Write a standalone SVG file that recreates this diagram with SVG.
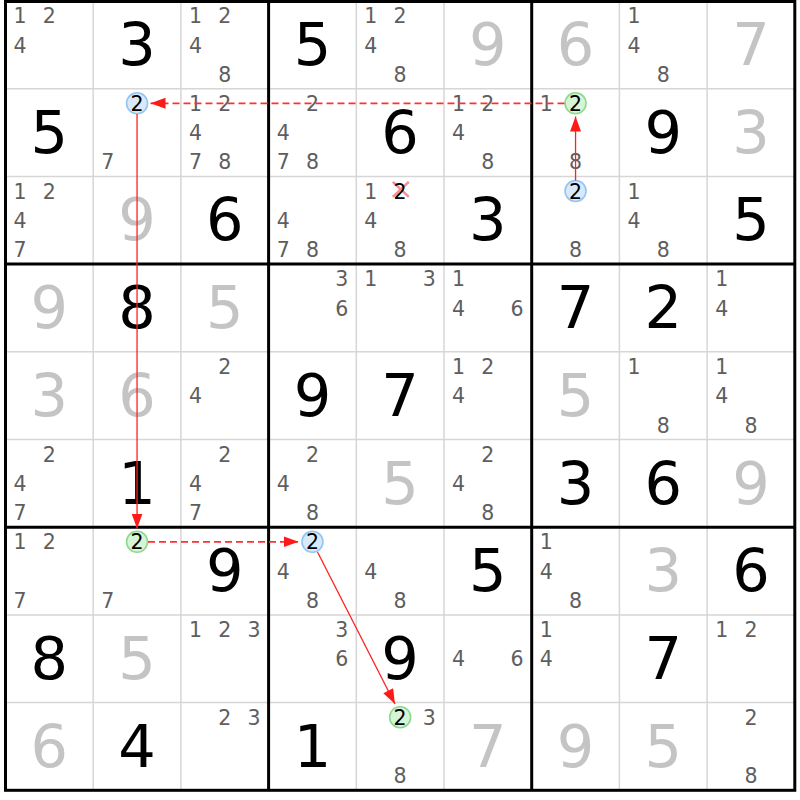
<svg xmlns="http://www.w3.org/2000/svg" width="800" height="800" viewBox="0 0 800 800">
<style>
text{font-family:"DejaVu Sans","Liberation Sans",sans-serif;text-anchor:middle}
.g{font-size:59px;fill:#000}
.s{font-size:59px;fill:#c4c4c4}
.c{font-size:20.5px;fill:#5e5e5e}
.k{font-size:20.5px;fill:#000}
.thin{stroke:#d6d6d6;stroke-width:1.5}
.thick{stroke:#000;stroke-width:3;fill:none}
.blue{fill:#d8e9fb;stroke:#94c4f2;stroke-width:1.6}
.green{fill:#d6f4d6;stroke:#8ed98e;stroke-width:1.6}
.solid{stroke:#ff2020;stroke-width:1.3;fill:none}
.dash{stroke:#ff3030;stroke-width:1.7;stroke-dasharray:7 4;fill:none}
</style>
<defs>
<marker id="ah" markerUnits="userSpaceOnUse" markerWidth="16" markerHeight="12" refX="15" refY="5.5" orient="auto"><path d="M0,0 L15,5.5 L0,11 z" fill="#ff1a1a"/></marker>
</defs>
<rect width="800" height="800" fill="#fff"/>
<g id="grid">
<g class="thin">
<line x1="93.2" y1="1" x2="93.2" y2="790.3"/><line x1="180.9" y1="1" x2="180.9" y2="790.3"/>
<line x1="356.3" y1="1" x2="356.3" y2="790.3"/><line x1="444" y1="1" x2="444" y2="790.3"/>
<line x1="619.4" y1="1" x2="619.4" y2="790.3"/><line x1="707.1" y1="1" x2="707.1" y2="790.3"/>
<line x1="5.5" y1="88.7" x2="794.8" y2="88.7"/><line x1="5.5" y1="176.4" x2="794.8" y2="176.4"/>
<line x1="5.5" y1="351.8" x2="794.8" y2="351.8"/><line x1="5.5" y1="439.5" x2="794.8" y2="439.5"/>
<line x1="5.5" y1="614.9" x2="794.8" y2="614.9"/><line x1="5.5" y1="702.6" x2="794.8" y2="702.6"/>
</g>
<g class="thick">
<rect x="5.5" y="1.5" width="789.3" height="788.8"/>
<line x1="268.6" y1="1" x2="268.6" y2="790.3"/><line x1="531.7" y1="1" x2="531.7" y2="790.3"/>
<line x1="5.5" y1="264.1" x2="794.8" y2="264.1"/><line x1="5.5" y1="527.2" x2="794.8" y2="527.2"/>
</g>
</g>
<!-- row 1 -->
<g id="r1c1" transform="translate(5.5,1)"><text class="c" x="14.6" y="22.3">1</text><text class="c" x="43.85" y="22.3">2</text><text class="c" x="14.6" y="51.6">4</text></g>
<g id="r1c2" transform="translate(93.2,1)"><text class="g" x="43.85" y="64">3</text></g>
<g id="r1c3" transform="translate(180.9,1)"><text class="c" x="14.6" y="22.3">1</text><text class="c" x="43.85" y="22.3">2</text><text class="c" x="14.6" y="51.6">4</text><text class="c" x="43.85" y="80.8">8</text></g>
<g id="r1c4" transform="translate(268.6,1)"><text class="g" x="43.85" y="64">5</text></g>
<g id="r1c5" transform="translate(356.3,1)"><text class="c" x="14.6" y="22.3">1</text><text class="c" x="43.85" y="22.3">2</text><text class="c" x="14.6" y="51.6">4</text><text class="c" x="43.85" y="80.8">8</text></g>
<g id="r1c6" transform="translate(444,1)"><text class="s" x="43.85" y="64">9</text></g>
<g id="r1c7" transform="translate(531.7,1)"><text class="s" x="43.85" y="64">6</text></g>
<g id="r1c8" transform="translate(619.4,1)"><text class="c" x="14.6" y="22.3">1</text><text class="c" x="14.6" y="51.6">4</text><text class="c" x="43.85" y="80.8">8</text></g>
<g id="r1c9" transform="translate(707.1,1)"><text class="s" x="43.85" y="64">7</text></g>
<!-- row 2 -->
<g id="r2c1" transform="translate(5.5,88.7)"><text class="g" x="43.85" y="64">5</text></g>
<g id="r2c2" transform="translate(93.2,88.7)"><circle class="blue" cx="43.85" cy="14.6" r="10.5"/><text class="k" x="43.85" y="22.3">2</text><text class="c" x="14.6" y="80.8">7</text></g>
<g id="r2c3" transform="translate(180.9,88.7)"><text class="c" x="14.6" y="22.3">1</text><text class="c" x="43.85" y="22.3">2</text><text class="c" x="14.6" y="51.6">4</text><text class="c" x="14.6" y="80.8">7</text><text class="c" x="43.85" y="80.8">8</text></g>
<g id="r2c4" transform="translate(268.6,88.7)"><text class="c" x="43.85" y="22.3">2</text><text class="c" x="14.6" y="51.6">4</text><text class="c" x="14.6" y="80.8">7</text><text class="c" x="43.85" y="80.8">8</text></g>
<g id="r2c5" transform="translate(356.3,88.7)"><text class="g" x="43.85" y="64">6</text></g>
<g id="r2c6" transform="translate(444,88.7)"><text class="c" x="14.6" y="22.3">1</text><text class="c" x="43.85" y="22.3">2</text><text class="c" x="14.6" y="51.6">4</text><text class="c" x="43.85" y="80.8">8</text></g>
<g id="r2c7" transform="translate(531.7,88.7)"><text class="c" x="14.6" y="22.3">1</text><circle class="green" cx="43.85" cy="14.6" r="10.5"/><text class="k" x="43.85" y="22.3">2</text><text class="c" x="43.85" y="80.8">8</text></g>
<g id="r2c8" transform="translate(619.4,88.7)"><text class="g" x="43.85" y="64">9</text></g>
<g id="r2c9" transform="translate(707.1,88.7)"><text class="s" x="43.85" y="64">3</text></g>
<!-- row 3 -->
<g id="r3c1" transform="translate(5.5,176.4)"><text class="c" x="14.6" y="22.3">1</text><text class="c" x="43.85" y="22.3">2</text><text class="c" x="14.6" y="51.6">4</text><text class="c" x="14.6" y="80.8">7</text></g>
<g id="r3c2" transform="translate(93.2,176.4)"><text class="s" x="43.85" y="64">9</text></g>
<g id="r3c3" transform="translate(180.9,176.4)"><text class="g" x="43.85" y="64">6</text></g>
<g id="r3c4" transform="translate(268.6,176.4)"><text class="c" x="14.6" y="51.6">4</text><text class="c" x="14.6" y="80.8">7</text><text class="c" x="43.85" y="80.8">8</text></g>
<g id="r3c5" transform="translate(356.3,176.4)"><text class="c" x="14.6" y="22.3">1</text><path d="M36.5,5.5 L52.5,20.5 M52.5,5.5 L36.5,20.5" stroke="#f59090" stroke-width="2.6" fill="none"/><text class="k" x="43.85" y="22.3">2</text><text class="c" x="14.6" y="51.6">4</text><text class="c" x="43.85" y="80.8">8</text></g>
<g id="r3c6" transform="translate(444,176.4)"><text class="g" x="43.85" y="64">3</text></g>
<g id="r3c7" transform="translate(531.7,176.4)"><circle class="blue" cx="43.85" cy="14.6" r="10.5"/><text class="k" x="43.85" y="22.3">2</text><text class="c" x="43.85" y="80.8">8</text></g>
<g id="r3c8" transform="translate(619.4,176.4)"><text class="c" x="14.6" y="22.3">1</text><text class="c" x="14.6" y="51.6">4</text><text class="c" x="43.85" y="80.8">8</text></g>
<g id="r3c9" transform="translate(707.1,176.4)"><text class="g" x="43.85" y="64">5</text></g>
<!-- row 4 -->
<g id="r4c1" transform="translate(5.5,264.1)"><text class="s" x="43.85" y="64">9</text></g>
<g id="r4c2" transform="translate(93.2,264.1)"><text class="g" x="43.85" y="64">8</text></g>
<g id="r4c3" transform="translate(180.9,264.1)"><text class="s" x="43.85" y="64">5</text></g>
<g id="r4c4" transform="translate(268.6,264.1)"><text class="c" x="73.1" y="22.3">3</text><text class="c" x="73.1" y="51.6">6</text></g>
<g id="r4c5" transform="translate(356.3,264.1)"><text class="c" x="14.6" y="22.3">1</text><text class="c" x="73.1" y="22.3">3</text></g>
<g id="r4c6" transform="translate(444,264.1)"><text class="c" x="14.6" y="22.3">1</text><text class="c" x="14.6" y="51.6">4</text><text class="c" x="73.1" y="51.6">6</text></g>
<g id="r4c7" transform="translate(531.7,264.1)"><text class="g" x="43.85" y="64">7</text></g>
<g id="r4c8" transform="translate(619.4,264.1)"><text class="g" x="43.85" y="64">2</text></g>
<g id="r4c9" transform="translate(707.1,264.1)"><text class="c" x="14.6" y="22.3">1</text><text class="c" x="14.6" y="51.6">4</text></g>
<!-- row 5 -->
<g id="r5c1" transform="translate(5.5,351.8)"><text class="s" x="43.85" y="64">3</text></g>
<g id="r5c2" transform="translate(93.2,351.8)"><text class="s" x="43.85" y="64">6</text></g>
<g id="r5c3" transform="translate(180.9,351.8)"><text class="c" x="43.85" y="22.3">2</text><text class="c" x="14.6" y="51.6">4</text></g>
<g id="r5c4" transform="translate(268.6,351.8)"><text class="g" x="43.85" y="64">9</text></g>
<g id="r5c5" transform="translate(356.3,351.8)"><text class="g" x="43.85" y="64">7</text></g>
<g id="r5c6" transform="translate(444,351.8)"><text class="c" x="14.6" y="22.3">1</text><text class="c" x="43.85" y="22.3">2</text><text class="c" x="14.6" y="51.6">4</text></g>
<g id="r5c7" transform="translate(531.7,351.8)"><text class="s" x="43.85" y="64">5</text></g>
<g id="r5c8" transform="translate(619.4,351.8)"><text class="c" x="14.6" y="22.3">1</text><text class="c" x="43.85" y="80.8">8</text></g>
<g id="r5c9" transform="translate(707.1,351.8)"><text class="c" x="14.6" y="22.3">1</text><text class="c" x="14.6" y="51.6">4</text><text class="c" x="43.85" y="80.8">8</text></g>
<!-- row 6 -->
<g id="r6c1" transform="translate(5.5,439.5)"><text class="c" x="43.85" y="22.3">2</text><text class="c" x="14.6" y="51.6">4</text><text class="c" x="14.6" y="80.8">7</text></g>
<g id="r6c2" transform="translate(93.2,439.5)"><text class="g" x="43.85" y="64">1</text></g>
<g id="r6c3" transform="translate(180.9,439.5)"><text class="c" x="43.85" y="22.3">2</text><text class="c" x="14.6" y="51.6">4</text><text class="c" x="14.6" y="80.8">7</text></g>
<g id="r6c4" transform="translate(268.6,439.5)"><text class="c" x="43.85" y="22.3">2</text><text class="c" x="14.6" y="51.6">4</text><text class="c" x="43.85" y="80.8">8</text></g>
<g id="r6c5" transform="translate(356.3,439.5)"><text class="s" x="43.85" y="64">5</text></g>
<g id="r6c6" transform="translate(444,439.5)"><text class="c" x="43.85" y="22.3">2</text><text class="c" x="14.6" y="51.6">4</text><text class="c" x="43.85" y="80.8">8</text></g>
<g id="r6c7" transform="translate(531.7,439.5)"><text class="g" x="43.85" y="64">3</text></g>
<g id="r6c8" transform="translate(619.4,439.5)"><text class="g" x="43.85" y="64">6</text></g>
<g id="r6c9" transform="translate(707.1,439.5)"><text class="s" x="43.85" y="64">9</text></g>
<!-- row 7 -->
<g id="r7c1" transform="translate(5.5,527.2)"><text class="c" x="14.6" y="22.3">1</text><text class="c" x="43.85" y="22.3">2</text><text class="c" x="14.6" y="80.8">7</text></g>
<g id="r7c2" transform="translate(93.2,527.2)"><circle class="green" cx="43.85" cy="14.6" r="10.5"/><text class="k" x="43.85" y="22.3">2</text><text class="c" x="14.6" y="80.8">7</text></g>
<g id="r7c3" transform="translate(180.9,527.2)"><text class="g" x="43.85" y="64">9</text></g>
<g id="r7c4" transform="translate(268.6,527.2)"><circle class="blue" cx="43.85" cy="14.6" r="10.5"/><text class="k" x="43.85" y="22.3">2</text><text class="c" x="14.6" y="51.6">4</text><text class="c" x="43.85" y="80.8">8</text></g>
<g id="r7c5" transform="translate(356.3,527.2)"><text class="c" x="14.6" y="51.6">4</text><text class="c" x="43.85" y="80.8">8</text></g>
<g id="r7c6" transform="translate(444,527.2)"><text class="g" x="43.85" y="64">5</text></g>
<g id="r7c7" transform="translate(531.7,527.2)"><text class="c" x="14.6" y="22.3">1</text><text class="c" x="14.6" y="51.6">4</text><text class="c" x="43.85" y="80.8">8</text></g>
<g id="r7c8" transform="translate(619.4,527.2)"><text class="s" x="43.85" y="64">3</text></g>
<g id="r7c9" transform="translate(707.1,527.2)"><text class="g" x="43.85" y="64">6</text></g>
<!-- row 8 -->
<g id="r8c1" transform="translate(5.5,614.9)"><text class="g" x="43.85" y="64">8</text></g>
<g id="r8c2" transform="translate(93.2,614.9)"><text class="s" x="43.85" y="64">5</text></g>
<g id="r8c3" transform="translate(180.9,614.9)"><text class="c" x="14.6" y="22.3">1</text><text class="c" x="43.85" y="22.3">2</text><text class="c" x="73.1" y="22.3">3</text></g>
<g id="r8c4" transform="translate(268.6,614.9)"><text class="c" x="73.1" y="22.3">3</text><text class="c" x="73.1" y="51.6">6</text></g>
<g id="r8c5" transform="translate(356.3,614.9)"><text class="g" x="43.85" y="64">9</text></g>
<g id="r8c6" transform="translate(444,614.9)"><text class="c" x="14.6" y="51.6">4</text><text class="c" x="73.1" y="51.6">6</text></g>
<g id="r8c7" transform="translate(531.7,614.9)"><text class="c" x="14.6" y="22.3">1</text><text class="c" x="14.6" y="51.6">4</text></g>
<g id="r8c8" transform="translate(619.4,614.9)"><text class="g" x="43.85" y="64">7</text></g>
<g id="r8c9" transform="translate(707.1,614.9)"><text class="c" x="14.6" y="22.3">1</text><text class="c" x="43.85" y="22.3">2</text></g>
<!-- row 9 -->
<g id="r9c1" transform="translate(5.5,702.6)"><text class="s" x="43.85" y="64">6</text></g>
<g id="r9c2" transform="translate(93.2,702.6)"><text class="g" x="43.85" y="64">4</text></g>
<g id="r9c3" transform="translate(180.9,702.6)"><text class="c" x="43.85" y="22.3">2</text><text class="c" x="73.1" y="22.3">3</text></g>
<g id="r9c4" transform="translate(268.6,702.6)"><text class="g" x="43.85" y="64">1</text></g>
<g id="r9c5" transform="translate(356.3,702.6)"><circle class="green" cx="43.85" cy="14.6" r="10.5"/><text class="k" x="43.85" y="22.3">2</text><text class="c" x="73.1" y="22.3">3</text><text class="c" x="43.85" y="80.8">8</text></g>
<g id="r9c6" transform="translate(444,702.6)"><text class="s" x="43.85" y="64">7</text></g>
<g id="r9c7" transform="translate(531.7,702.6)"><text class="s" x="43.85" y="64">9</text></g>
<g id="r9c8" transform="translate(619.4,702.6)"><text class="s" x="43.85" y="64">5</text></g>
<g id="r9c9" transform="translate(707.1,702.6)"><text class="c" x="43.85" y="22.3">2</text><text class="c" x="43.85" y="80.8">8</text></g>
<g id="connectors">
<line class="dash" x1="564.5" y1="103.3" x2="150.5" y2="103.3" marker-end="url(#ah)"/>
<line class="solid" x1="575.55" y1="180.5" x2="575.55" y2="116.5" marker-end="url(#ah)"/>
<line class="solid" x1="137.05" y1="114" x2="137.05" y2="528.5" marker-end="url(#ah)"/>
<line class="dash" x1="148" y1="541.8" x2="298.5" y2="541.8" marker-end="url(#ah)"/>
<line class="solid" x1="317.5" y1="552" x2="395" y2="704" marker-end="url(#ah)"/>
</g>
</svg>
